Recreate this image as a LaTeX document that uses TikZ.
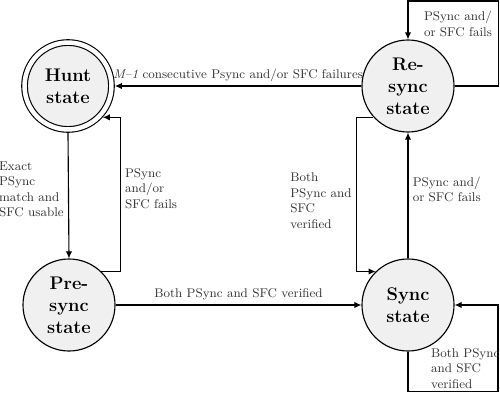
\documentclass[tikz,border=0pt]{standalone}
\usepackage{amsmath, amssymb}
\usetikzlibrary{arrows.meta}
\tikzstyle{state}=[circle, draw, line width=0.8pt, fill=black!6, minimum size=2.3cm, inner sep=0pt, align=center, font=\fontsize{13}{15.6}\selectfont\bfseries]
\tikzstyle{trans}=[line width=0.8pt, -{Latex[length=5pt,width=4.5pt]}]
\tikzstyle{lbl}=[font=\small, text=black!80, align=left, inner sep=3pt]

\begin{document}
\begin{tikzpicture}[x=0.025cm, y=0.025cm]
				\useasboundingbox (0,0) rectangle (500,409);

				\node[state, double, double distance=3.2pt, minimum size=61.8pt, outer sep=2.4pt] (hunt) at (68,323) {Hunt\\state};
				\node[state] (resync) at (408,323) {Re-\\sync\\state};
				\node[state] (presync) at (69,104) {Pre-\\sync\\state};
				\node[state] (sync) at (408,104) {Sync\\state};

				\draw[trans] (resync.west) -- node[lbl, above] {\textit{M--1} consecutive Psync and/or SFC failures} (hunt.east);
				\draw[trans] (hunt.south) -- node[lbl, left, pos=0.45] {Exact\\PSync\\match and\\SFC usable} (presync.north);
				\draw[trans] (presync.46) -- ++(19,0) |- node[lbl, right, pos=0.27] {PSync\\and/or\\SFC fails} (hunt.-42);
				\draw[trans] (presync.east) -- node[lbl, above] {Both PSync and SFC verified} (sync.west);
				\draw[trans] (resync.222) -- ++(-17,0) |- node[lbl, left, pos=0.27] {Both\\PSync and\\SFC\\verified} (sync.134);
				\draw[trans] (sync.north) -- node[lbl, right, pos=0.55] {PSync and/\\or SFC fails} (resync.south);
				\draw[trans] (resync.east) -| ++(44,85) -| node[lbl, below right, pos=0.5, xshift=8pt, yshift=-4pt] {PSync and/\\or SFC fails} (resync.north);
				\draw[trans] (sync.south) |- node[lbl, above right, pos=0.5, xshift=14pt, inner sep=2pt] {Both PSync\\and SFC\\verified} ++(90,-40) |- (sync.east);
			\end{tikzpicture}
\end{document}
